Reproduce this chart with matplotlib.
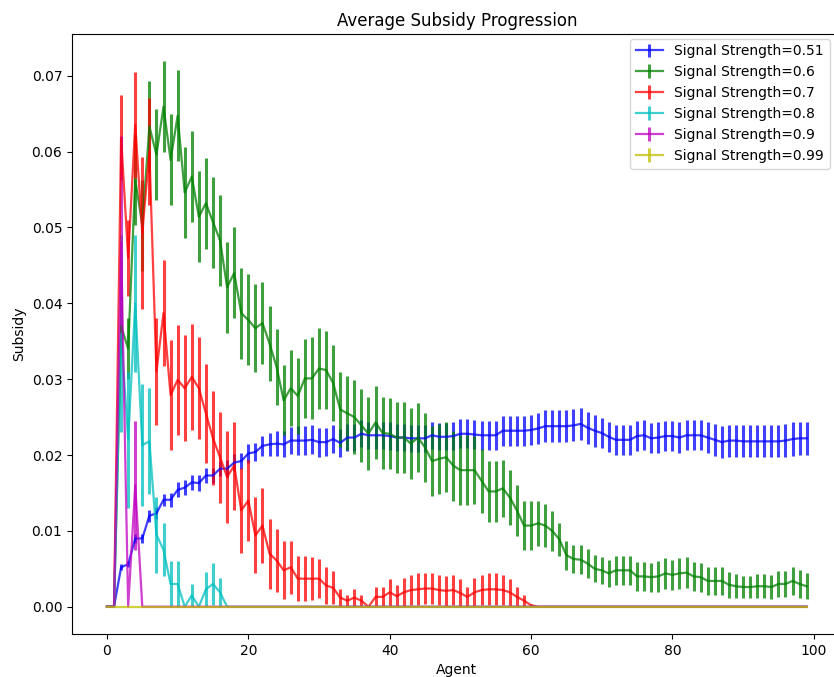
import numpy as np
import matplotlib
matplotlib.use("Agg")
import matplotlib.pyplot as plt

agents = np.arange(100)
labels = ["Signal Strength=0.51", "Signal Strength=0.6", "Signal Strength=0.7",
          "Signal Strength=0.8", "Signal Strength=0.9", "Signal Strength=0.99"]
colors = ["b", "g", "r", "c", "m", "y"]

blue_vals = [0, 0, 0.0052, 0.0056, 0.0090, 0.0090, 0.0120, 0.0123, 0.0141, 0.0141,
             0.0154, 0.0157, 0.0164, 0.0163, 0.0173, 0.0173, 0.0182, 0.0182, 0.0190, 0.0192,
             0.0202, 0.0204, 0.0212, 0.0214, 0.0215, 0.0214, 0.0219, 0.0219, 0.0219, 0.0220,
             0.0217, 0.0217, 0.0221, 0.0216, 0.0223, 0.0223, 0.0228, 0.0226, 0.0226, 0.0226,
             0.0225, 0.0223, 0.0223, 0.0222, 0.0222, 0.0222, 0.0226, 0.0224, 0.0224, 0.0225,
             0.0228, 0.0228, 0.0227, 0.0226, 0.0226, 0.0226, 0.0232, 0.0232, 0.0232, 0.0232,
             0.0233, 0.0235, 0.0238, 0.0238, 0.0238, 0.0238, 0.0239, 0.0241, 0.0236, 0.0232,
             0.0229, 0.0224, 0.0220, 0.0220, 0.0220, 0.0225, 0.0226, 0.0222, 0.0223, 0.0225,
             0.0225, 0.0223, 0.0226, 0.0226, 0.0226, 0.0223, 0.0220, 0.0217, 0.0219, 0.0219,
             0.0218, 0.0218, 0.0218, 0.0218, 0.0218, 0.0218, 0.0219, 0.0221, 0.0222, 0.0222]
blue_err = [0, 0, 0.0004, 0.0004, 0.0006, 0.0006, 0.0008, 0.0008, 0.0008, 0.0009,
            0.0010, 0.0010, 0.0010, 0.0010, 0.0010, 0.0010, 0.0010, 0.0011, 0.0011, 0.0011,
            0.0012, 0.0012, 0.0013, 0.0015, 0.0016, 0.0017, 0.0018, 0.0019, 0.0019, 0.0019,
            0.0019, 0.0018, 0.0018, 0.0018, 0.0018, 0.0018, 0.0018, 0.0018, 0.0018, 0.0018,
            0.0018, 0.0018, 0.0018, 0.0018, 0.0018, 0.0018, 0.0018, 0.0018, 0.0018, 0.0018,
            0.0019, 0.0019, 0.0019, 0.0019, 0.0019, 0.0019, 0.0020, 0.0020, 0.0020, 0.0020,
            0.0020, 0.0021, 0.0021, 0.0021, 0.0021, 0.0021, 0.0021, 0.0021, 0.0021, 0.0021,
            0.0020, 0.0020, 0.0020, 0.0020, 0.0020, 0.0020, 0.0020, 0.0020, 0.0020, 0.0020,
            0.0020, 0.0020, 0.0020, 0.0020, 0.0020, 0.0020, 0.0021, 0.0021, 0.0021, 0.0021,
            0.0021, 0.0021, 0.0021, 0.0021, 0.0021, 0.0021, 0.0022, 0.0022, 0.0022, 0.0022]

green_vals = [0, 0, 0.0370, 0.0340, 0.0563, 0.0503, 0.0633, 0.0596, 0.0659, 0.0589,
              0.0647, 0.0546, 0.0567, 0.0514, 0.0532, 0.0507, 0.0483, 0.0421, 0.0440, 0.0387,
              0.0378, 0.0367, 0.0374, 0.0347, 0.0316, 0.0272, 0.0288, 0.0278, 0.0301, 0.0301,
              0.0314, 0.0312, 0.0295, 0.0260, 0.0255, 0.0250, 0.0239, 0.0228, 0.0243, 0.0229,
              0.0228, 0.0223, 0.0223, 0.0215, 0.0223, 0.0210, 0.0192, 0.0195, 0.0197, 0.0186,
              0.0180, 0.0180, 0.0180, 0.0166, 0.0152, 0.0152, 0.0156, 0.0144, 0.0127, 0.0107,
              0.0107, 0.0110, 0.0107, 0.0100, 0.0089, 0.0068, 0.0063, 0.0062, 0.0057, 0.0050,
              0.0048, 0.0044, 0.0048, 0.0048, 0.0048, 0.0040, 0.0040, 0.0039, 0.0040, 0.0044,
              0.0042, 0.0044, 0.0045, 0.0040, 0.0039, 0.0034, 0.0034, 0.0034, 0.0029, 0.0027,
              0.0026, 0.0026, 0.0027, 0.0027, 0.0026, 0.0030, 0.0030, 0.0034, 0.0030, 0.0027]
green_err = [0, 0, 0.0040, 0.0040, 0.0060, 0.0060, 0.0060, 0.0060, 0.0060, 0.0060,
             0.0060, 0.0060, 0.0060, 0.0060, 0.0060, 0.0060, 0.0060, 0.0060, 0.0060, 0.0060,
             0.0060, 0.0058, 0.0054, 0.0050, 0.0050, 0.0046, 0.0050, 0.0050, 0.0052, 0.0054,
             0.0054, 0.0052, 0.0050, 0.0050, 0.0049, 0.0049, 0.0048, 0.0048, 0.0048, 0.0048,
             0.0047, 0.0047, 0.0047, 0.0047, 0.0046, 0.0046, 0.0046, 0.0046, 0.0046, 0.0046,
             0.0046, 0.0046, 0.0045, 0.0042, 0.0040, 0.0040, 0.0038, 0.0036, 0.0034, 0.0032,
             0.0032, 0.0030, 0.0028, 0.0026, 0.0022, 0.0019, 0.0019, 0.0019, 0.0019, 0.0018,
             0.0018, 0.0018, 0.0019, 0.0019, 0.0019, 0.0019, 0.0019, 0.0019, 0.0020, 0.0020,
             0.0020, 0.0020, 0.0020, 0.0019, 0.0019, 0.0018, 0.0018, 0.0018, 0.0017, 0.0016,
             0.0015, 0.0015, 0.0016, 0.0016, 0.0016, 0.0017, 0.0017, 0.0018, 0.0018, 0.0017]

red_vals = [0, 0, 0.0618, 0.0460, 0.0635, 0.0493, 0.0600, 0.0310, 0.0387, 0.0279,
            0.0299, 0.0288, 0.0303, 0.0288, 0.0255, 0.0222, 0.0197, 0.0171, 0.0186, 0.0127,
            0.0140, 0.0094, 0.0107, 0.0070, 0.0061, 0.0048, 0.0052, 0.0037, 0.0037, 0.0037,
            0.0037, 0.0028, 0.0025, 0.0012, 0.0008, 0.0012, 0.0008, 0.0000, 0.0013, 0.0013,
            0.0019, 0.0014, 0.0019, 0.0022, 0.0023, 0.0024, 0.0024, 0.0022, 0.0021, 0.0022,
            0.0018, 0.0013, 0.0019, 0.0022, 0.0023, 0.0023, 0.0022, 0.0019, 0.0013, 0.0008,
            0.0002] + [0.0] * 39
red_err = [0, 0, 0.0056, 0.0050, 0.0070, 0.0100, 0.0070, 0.0070, 0.0070, 0.0073,
           0.0073, 0.0070, 0.0070, 0.0067, 0.0065, 0.0062, 0.0060, 0.0060, 0.0058, 0.0056,
           0.0054, 0.0050, 0.0050, 0.0046, 0.0042, 0.0038, 0.0035, 0.0030, 0.0030, 0.0028,
           0.0026, 0.0025, 0.0022, 0.0012, 0.0008, 0.0012, 0.0008, 0.0000, 0.0013, 0.0013,
           0.0018, 0.0014, 0.0019, 0.0020, 0.0021, 0.0021, 0.0021, 0.0020, 0.0020, 0.0020,
           0.0018, 0.0013, 0.0019, 0.0020, 0.0021, 0.0021, 0.0020, 0.0018, 0.0013, 0.0008,
           0.0002] + [0.0] * 39

cyan_vals = [0, 0, 0.0360, 0.0220, 0.0400, 0.0213, 0.0218, 0.0095, 0.0075, 0.0030,
             0.0030, 0.0000, 0.0015, 0.0000, 0.0023, 0.0030, 0.0019] + [0.0] * 83
cyan_err = [0, 0, 0.0130, 0.0090, 0.0090, 0.0080, 0.0070, 0.0050, 0.0035, 0.0030,
            0.0030, 0.0000, 0.0015, 0.0000, 0.0023, 0.0028, 0.0019] + [0.0] * 83

magenta_vals = [0, 0, 0.0480, 0.0000, 0.0160] + [0.0] * 95
magenta_err = [0, 0, 0.0140, 0.0000, 0.0085] + [0.0] * 95

yellow_vals = [0.0] * 100
yellow_err = [0.0] * 100

series_vals = [blue_vals, green_vals, red_vals, cyan_vals, magenta_vals, yellow_vals]
series_err = [blue_err, green_err, red_err, cyan_err, magenta_err, yellow_err]

fig = plt.figure(figsize=(8.34, 6.77), dpi=100)
ax = fig.add_axes([0.0863, 0.0635, 0.9229, 0.8863])

for vals, errs, col, lab in zip(series_vals, series_err, colors, labels):
    ax.errorbar(agents, vals, yerr=errs, color=col, label=lab, alpha=0.75,
                linewidth=1.6, elinewidth=2.2)

ax.set_title("Average Subsidy Progression", fontsize=12)
ax.set_xlabel("Agent")
ax.set_ylabel("Subsidy")
ax.set_xticks([0, 20, 40, 60, 80, 100])
ax.legend(loc="upper right", bbox_to_anchor=(0.9845, 0.992), borderaxespad=0.0)

fig.savefig("out.png", dpi=100)
